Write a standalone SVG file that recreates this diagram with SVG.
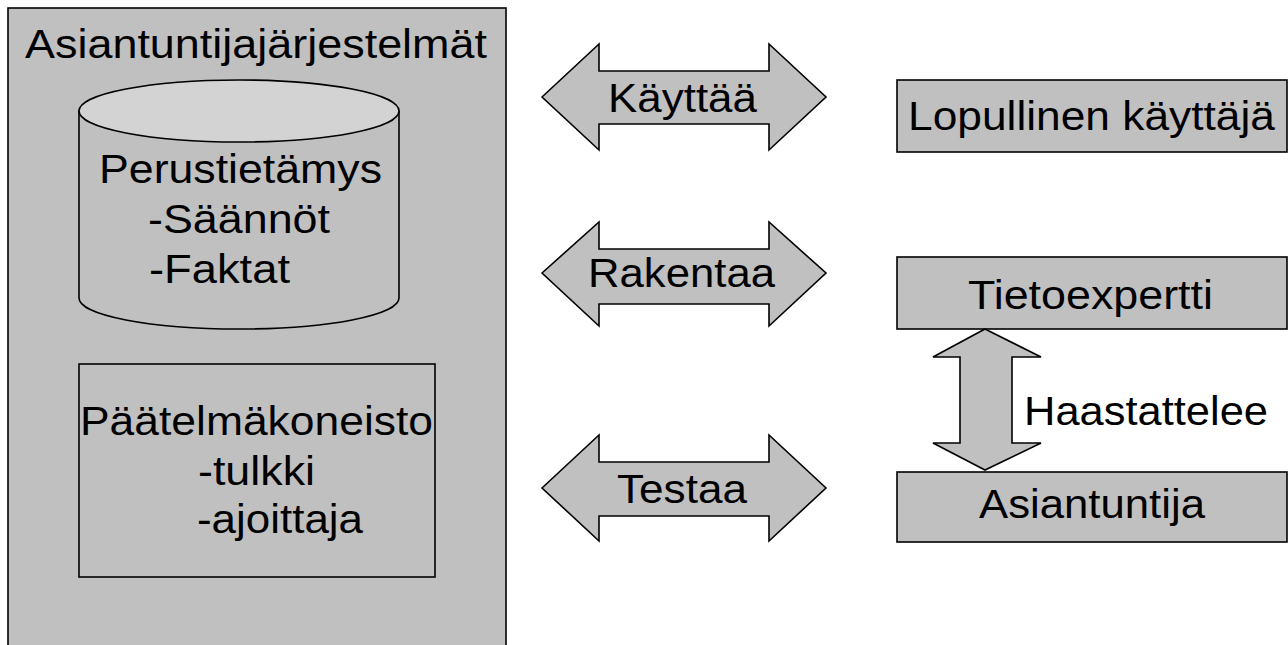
<svg xmlns="http://www.w3.org/2000/svg" width="1288" height="645" viewBox="0 0 1288 645">
  <style>
    .box { fill: #c0c0c0; stroke: #000; stroke-width: 1.6; }
    .plain { fill: none; stroke: #000; stroke-width: 1.6; }
    .lid { fill: #d3d3d3; stroke: #000; stroke-width: 1.6; }
    .arrow { fill: #c0c0c0; stroke: #000; stroke-width: 1.6; stroke-linejoin: miter; }
    text { font-family: "Liberation Sans", Arial, sans-serif; font-size: 41px; fill: #000; }
  </style>
  <rect width="1288" height="645" fill="#fff"/>

  <!-- expert system container -->
  <g id="expert-system">
    <rect class="box" x="8" y="8" width="498" height="660"/>
    <text x="25" y="58" textLength="462" lengthAdjust="spacingAndGlyphs">Asiantuntijajärjestelmät</text>
  </g>

  <!-- knowledge base cylinder -->
  <g id="knowledge-base">
    <path class="box" d="M79,111 L79,298 A160,31 0 0 0 399,298 L399,111 Z"/>
    <ellipse class="lid" cx="239" cy="111" rx="160" ry="31"/>
    <text x="99" y="183" textLength="283" lengthAdjust="spacingAndGlyphs">Perustietämys</text>
    <text x="148" y="233" textLength="182" lengthAdjust="spacingAndGlyphs">-Säännöt</text>
    <text x="149" y="283" textLength="141" lengthAdjust="spacingAndGlyphs">-Faktat</text>
  </g>

  <!-- inference engine -->
  <g id="inference-engine">
    <rect class="plain" x="79" y="364" width="356" height="213"/>
    <text x="80" y="435" textLength="353" lengthAdjust="spacingAndGlyphs">Päätelmäkoneisto</text>
    <text x="198" y="485" textLength="117" lengthAdjust="spacingAndGlyphs">-tulkki</text>
    <text x="197" y="533" textLength="166" lengthAdjust="spacingAndGlyphs">-ajoittaja</text>
  </g>

  <!-- roles -->
  <g id="end-user">
    <rect class="box" x="897" y="80" width="390" height="72"/>
    <text x="908" y="130" textLength="367" lengthAdjust="spacingAndGlyphs">Lopullinen käyttäjä</text>
  </g>
  <g id="knowledge-engineer">
    <rect class="box" x="897" y="257" width="390" height="72"/>
    <text x="968" y="309" textLength="245" lengthAdjust="spacingAndGlyphs">Tietoexpertti</text>
  </g>
  <g id="domain-expert">
    <rect class="box" x="897" y="472" width="390" height="70"/>
    <text x="979" y="518" textLength="226" lengthAdjust="spacingAndGlyphs">Asiantuntija</text>
  </g>

  <!-- double-headed block arrows -->
  <g id="connectors">
    <g id="uses">
      <polygon class="arrow" points="542,97 599,44 599,71 769,71 769,44 826,97 769,150 769,124 599,124 599,150"/>
      <text x="608" y="112" textLength="149" lengthAdjust="spacingAndGlyphs">Käyttää</text>
    </g>
    <g id="builds">
      <polygon class="arrow" points="542,273 599,222 599,249 769,249 769,222 826,273 769,326 769,304 599,304 599,326"/>
      <text x="588" y="287" textLength="187" lengthAdjust="spacingAndGlyphs">Rakentaa</text>
    </g>
    <g id="tests">
      <polygon class="arrow" points="542,488 599,435 599,462 769,462 769,435 826,488 769,541 769,516 599,516 599,541"/>
      <text x="617" y="503" textLength="130" lengthAdjust="spacingAndGlyphs">Testaa</text>
    </g>
    <g id="interviews">
      <polygon class="arrow" points="985,329 1041,357 1012,357 1012,443 1041,443 985,470 933,443 960,443 960,357 933,357"/>
      <text x="1024" y="425" textLength="244" lengthAdjust="spacingAndGlyphs">Haastattelee</text>
    </g>
  </g>
</svg>
